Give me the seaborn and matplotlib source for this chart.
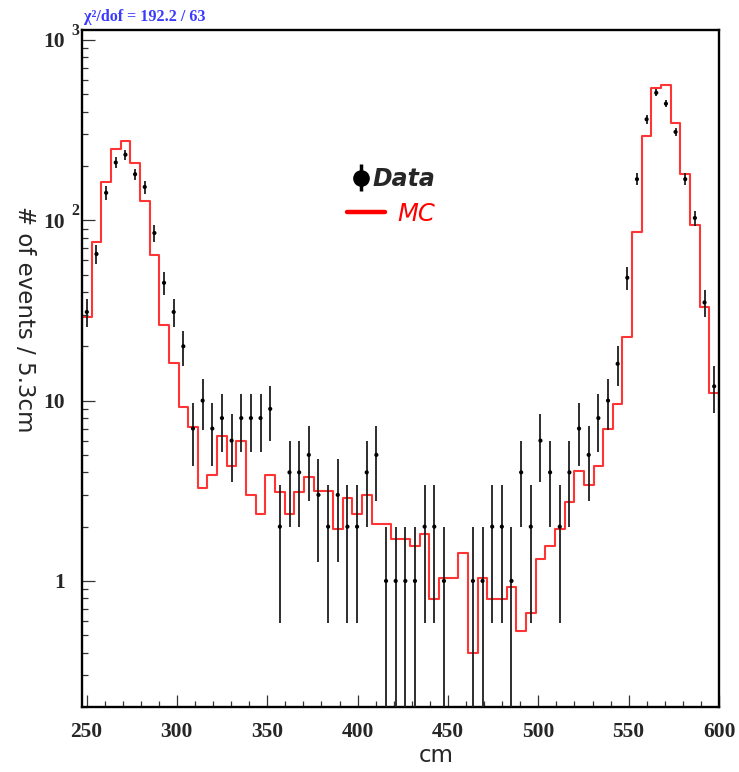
import numpy as np
import matplotlib
matplotlib.use("Agg")
import matplotlib.pyplot as plt
import seaborn as sns
from matplotlib.ticker import FixedLocator, MultipleLocator, LogLocator, NullFormatter
from matplotlib.legend_handler import HandlerErrorbar
from matplotlib.container import ErrorbarContainer
from matplotlib.lines import Line2D

# ---------------- data ----------------
x_min, x_max, n_bins = 247.5, 600.0, 66

data_counts = [31, 65, 142, 209, 231, 180, 153, 85, 45, 31,
               20, 7, 10, 7, 8, 6, 8, 8, 8, 9,
               2, 4, 4, 5, 3, 2, 3, 2, 2, 4,
               5, 1, 1, 1, 1, 2, 2, 1, 0, 0,
               1, 1, 2, 2, 1, 4, 2, 6, 4, 2,
               4, 7, 5, 8, 10, 16, 48, 169, 363, 509,
               443, 309, 169, 103, 35, 12]

mc_counts = [29, 75.5, 162, 248, 275, 209, 128.5, 63.8, 26.4, 16.1,
             9.27, 7.18, 3.28, 3.88, 6.38, 4.32, 5.98, 3.01, 2.35, 3.88,
             3.11, 2.35, 3.11, 3.77, 3.14, 3.14, 1.95, 2.88, 2.35, 3.01,
             2.08, 2.08, 1.70, 1.70, 1.56, 1.83, 0.79, 1.04, 1.04, 1.43,
             0.397, 1.04, 0.79, 0.79, 0.93, 0.53, 0.66, 1.32, 1.56, 1.95,
             2.73, 4.05, 3.39, 4.32, 6.94, 9.59, 22.6, 86.6, 293.6, 543,
             559, 348, 180, 94.2, 33.1, 11.0]

x_ticks = [250, 300, 350, 400, 450, 500, 550, 600]
y_ticks = [1, 10, 100, 1000]
y_tick_bases = ["1", "10", "10", "10"]
y_tick_exps = ["", "", "2", "3"]
chi2_text = "\u03c7\u00b2/dof = 192.2 / 63"
x_title = "cm"
y_title = "# of events / 5.3cm"

# ---------------- style ----------------
sns.set_style("ticks")
plt.rcParams["font.family"] = ["DejaVu Sans"]

W, H = 739, 772
fig = plt.figure(figsize=(W / 100, H / 100), dpi=100)
fig.patch.set_facecolor("white")
ax = fig.add_axes([82 / W, 1 - 707 / H, 637 / W, 677 / H])
ax.set_facecolor("white")
ax.set_yscale("log", nonpositive="clip")

edges = np.linspace(x_min, x_max, n_bins + 1)
centers = 0.5 * (edges[:-1] + edges[1:])
mc = np.array(mc_counts, dtype=float)
dat = np.array(data_counts, dtype=float)

# MC histogram outline
red = "#ff3535"
sns.lineplot(x=edges, y=np.append(mc, mc[-1]), drawstyle="steps-post",
             estimator=None, color=red, lw=1.5, ax=ax, legend=False)
ax.vlines([edges[0]], 1, mc[0], color=red, lw=1.5)
ax.vlines([edges[-1]], 1, mc[-1], color=red, lw=1.5)

# Data points with Poisson errors
m = dat > 0
xc, yc = centers[m], dat[m]
err = np.sqrt(yc)
lo = np.minimum(err, yc - 1e-6)
ax.errorbar(xc, yc, yerr=[lo, err], fmt="none", ecolor="#1e1e1e",
            elinewidth=1.3, capsize=0, zorder=3)
sns.scatterplot(x=xc, y=yc, color="black", s=9, marker="o",
                edgecolor="none", ax=ax, zorder=4, legend=False)

# axes
ax.set_xlim(x_min, x_max)
ax.set_ylim(0.2, 1135)
ax.xaxis.set_major_locator(FixedLocator(x_ticks))
ax.xaxis.set_minor_locator(MultipleLocator(10))
ax.set_xticklabels([str(t) for t in x_ticks])
ax.yaxis.set_major_locator(FixedLocator(y_ticks))
ax.set_yticklabels(y_tick_bases)
ax.yaxis.set_minor_locator(LogLocator(base=10, subs=np.arange(2, 10), numticks=20))
ax.yaxis.set_minor_formatter(NullFormatter())
ax.tick_params(which="both", direction="in", top=False, right=False,
               color="#333333", width=0.9)
ax.tick_params(axis="x", which="major", length=9, pad=11)
ax.tick_params(axis="x", which="minor", length=4.5)
ax.tick_params(axis="y", which="major", length=9.5, pad=12.3)
ax.tick_params(axis="y", which="minor", length=4.5)
for lab in ax.get_xticklabels() + ax.get_yticklabels():
    lab.set_fontfamily("Liberation Serif")
    lab.set_fontweight("bold")
    lab.set_fontsize(15.5)
# exponents of the y tick labels (ROOT style "10 ²")
for val, ex in zip(y_ticks, y_tick_exps):
    if ex:
        ax.annotate(ex, xy=(0, val), xycoords=("axes fraction", "data"),
                    xytext=(-11, 9), textcoords="offset pixels",
                    ha="left", va="center", fontsize=11.5,
                    family="Liberation Serif", fontweight="bold",
                    annotation_clip=False)
for sp in ax.spines.values():
    sp.set_linewidth(1.7)
    sp.set_color("black")
ax.set_xlabel("")
ax.set_ylabel("")

fig.text(436 / W, 1 - 756 / H, x_title, fontsize=16.5, ha="center", va="center",
         family="DejaVu Sans")
fig.text(24 / W, 1 - 319 / H, y_title, fontsize=16.5, ha="center", va="center",
         rotation=-90, family="DejaVu Sans")
fig.text(84 / W, 1 - 21 / H, chi2_text, fontsize=11.6, color="#3a3aff",
         family="Liberation Serif", fontweight="bold", ha="left", va="baseline")

# legend (two entries positioned separately)
proxy = ax.errorbar([np.nan], [np.nan], yerr=[1.0], fmt="o", color="black",
                    ms=11, elinewidth=2.5, capsize=0)
leg1 = ax.legend([proxy], ["Data"], loc="center left",
                 bbox_to_anchor=(353 / W, 1 - 179 / H), bbox_transform=fig.transFigure,
                 frameon=False, handlelength=0.68, handletextpad=0.15, borderpad=0,
                 borderaxespad=0,
                 handler_map={ErrorbarContainer: HandlerErrorbar(yerr_size=0.58)},
                 prop={"style": "italic", "weight": "bold", "size": 17})
ax.add_artist(leg1)
mc_handle = Line2D([], [], color="#ff0000", lw=3.2)
leg2 = ax.legend([mc_handle], ["MC"], loc="center left",
                 bbox_to_anchor=(347 / W, 1 - 214 / H), bbox_transform=fig.transFigure,
                 frameon=False, handlelength=1.58, handletextpad=0.5, borderpad=0,
                 borderaxespad=0,
                 prop={"style": "italic", "size": 17.5})
for t in leg2.get_texts():
    t.set_color("#ff0000")

fig.savefig("out.png", dpi=100, facecolor="white")
